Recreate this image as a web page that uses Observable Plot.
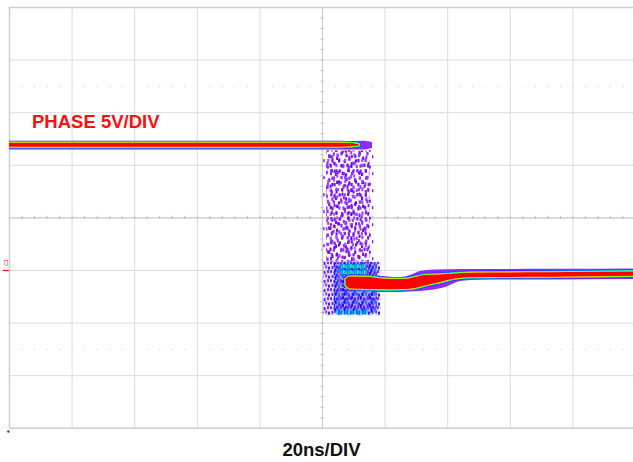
<!DOCTYPE html>
<html><head><meta charset="utf-8">
<script src="https://cdn.jsdelivr.net/npm/d3@7"></script>
<script src="https://cdn.jsdelivr.net/npm/@observablehq/plot@0.6"></script>
<style>
html,body{margin:0;padding:0;background:#fff;}
#chart{width:633px;height:462px;overflow:hidden;}
</style></head><body><div id="chart"></div>
<script>
// ---- graticule (20 ns/div, 5 V/div) ----
const timeDivs = [0, 20, 40, 60, 80, 100, 120, 140, 160, 180, 200];   // ns
const voltDivs = [-15, -10, -5, 0, 5, 10, 15, 20, 25];                // V
const minorTime = d3.range(0, 200.1, 4);
const minorVolt = d3.range(-15, 25.1, 1);
const dottedRows = [17.5, -7.5];

// ---- PHASE node, high level before the falling edge ----
const highOuterT  = [-3, 60, 108, 113, 116];
const highOuterHi = [12.25, 12.25, 12.25, 12.28, 12.15];
const highOuterLo = [11.45, 11.45, 11.45, 11.45, 11.6];
const highCoreT   = [-3, 60, 106, 110, 111.8];
const highCoreHi  = [12.1, 12.1, 12.1, 12.05, 11.95];
const highCoreLo  = [11.72, 11.72, 11.72, 11.78, 11.86];

// ---- low level after the edge ----
const lowOuterT  = [117, 124.9, 128.1, 131.3, 134.5, 139.3, 144.1, 150.5, 172.8, 203];
const lowOuterHi = [-0.52, -0.67, -0.48, -0.1, 0.02, 0.06, 0.1, 0.1, 0.12, 0.15];
const lowOuterLo = [-2.09, -2.09, -2.04, -2.0, -1.9, -1.62, -1.05, -0.93, -0.9, -0.86];
const lowCoreT   = [107.5, 109, 115, 121.7, 126.5, 129.7, 132.9, 137.7, 142.5, 147.3, 172.8, 203];
const lowCoreHi  = [-0.86, -0.62, -0.67, -0.86, -0.86, -0.67, -0.48, -0.43, -0.33, -0.26, -0.21, -0.14];
const lowCoreLo  = [-1.43, -1.76, -1.81, -1.85, -1.81, -1.71, -1.47, -1.14, -0.81, -0.68, -0.64, -0.54];

// ---- jitter / ringing zones during the transition ----
const zoneKind = ["sparse", "scatter", "scatter2", "blockPurple", "blockBlue", "blockCyan", "blockFloor"];
const zoneT1   = [99.8, 101.3, 101.3, 100.4, 103.8, 105.8, 104.5];
const zoneT2   = [116.4, 115.2, 115.2, 118.6, 117.6, 113.8, 114.5];
const zoneV1   = [0.8, 0.8, 0.8, -4.3, -4.05, -0.45, -4.22];
const zoneV2   = [11.4, 11.35, 11.35, 0.78, 0.72, 0.58, -3.85];

const labelCh = "PHASE 5V/DIV";
const labelX  = "20ns/DIV";

// tables
const band = (T, hi, lo) => T.map((t, i) => ({t, hi: hi[i], lo: lo[i]}));
const highOuter = band(highOuterT, highOuterHi, highOuterLo);
const highCore  = band(highCoreT, highCoreHi, highCoreLo);
const lowOuter  = band(lowOuterT, lowOuterHi, lowOuterLo);
const lowCore   = band(lowCoreT, lowCoreHi, lowCoreLo);
const zones = zoneKind.map((k, i) => ({k, t1: zoneT1[i], t2: zoneT2[i], v1: zoneV1[i], v2: zoneV2[i]}));
const zoneFill = {sparse: "url(#pSparse)", scatter: "url(#pScatter)", scatter2: "url(#pScatter2)",
  blockPurple: "url(#pDense)", blockBlue: "url(#pBlue)", blockCyan: "url(#pCyan)", blockFloor: "url(#pFloor)"};

const PURPLE = "#8a2cff", BLUE = "#1c1cff", CYAN = "#00e8ff", GREEN = "#22ff22", YELLOW = "#ffff00", RED = "#ff0000";
const font = "Liberation Sans, Arial, Helvetica, sans-serif";

const bandMarks = (outer, core) => [
  Plot.areaY(outer, {x: "t", y1: "lo", y2: "hi", fill: PURPLE, curve: "monotone-x", clip: true}),
  Plot.areaY(core, {x: "t", y1: "lo", y2: "hi", fill: "none", stroke: BLUE, strokeWidth: 3.8, curve: "monotone-x", clip: true}),
  Plot.areaY(core, {x: "t", y1: "lo", y2: "hi", fill: "none", stroke: CYAN, strokeWidth: 2.9, curve: "monotone-x", clip: true}),
  Plot.areaY(core, {x: "t", y1: "lo", y2: "hi", fill: "none", stroke: GREEN, strokeWidth: 2.0, curve: "monotone-x", clip: true}),
  Plot.areaY(core, {x: "t", y1: "lo", y2: "hi", fill: "none", stroke: YELLOW, strokeWidth: 1.1, curve: "monotone-x", clip: true}),
  Plot.areaY(core, {x: "t", y1: "lo", y2: "hi", fill: RED, curve: "monotone-x", clip: true})
];

const svg = Plot.plot({
  width: 633, height: 462,
  marginLeft: 9, marginRight: 0, marginTop: 7, marginBottom: 34,
  x: {domain: [0, 200], range: [9, 635], axis: null},
  y: {domain: [-15, 25], range: [427.8, 7], axis: null},
  style: {background: "#fff", fontFamily: font},
  marks: [
    Plot.ruleX(timeDivs, {stroke: "#dcdcdc", strokeWidth: 1}),
    Plot.ruleY(voltDivs, {stroke: "#dcdcdc", strokeWidth: 1}),
    Plot.dot(dottedRows.flatMap(v => minorTime.map(t => ({t, v}))), {x: "t", y: "v", r: 0.7, fill: "#d4d4d4", stroke: null}),
    Plot.ruleX([100], {stroke: "#cacaca"}),
    Plot.ruleY([5], {stroke: "#cacaca"}),
    Plot.ruleX(minorTime, {x: d => d, y1: 4.85, y2: 5.15, stroke: "#bdbdbd"}),
    Plot.ruleY(minorVolt, {y: d => d, x1: 99.5, x2: 100.5, stroke: "#bdbdbd"}),
    Plot.ruleX([0], {stroke: "#cfcfcf", strokeWidth: 1.6}),
    Plot.ruleY([25, -15], {stroke: "#cfcfcf", strokeWidth: 1.6}),
    ...Object.keys(zoneFill).map(k => Plot.rect(zones.filter(z => z.k === k),
      {x1: "t1", x2: "t2", y1: "v1", y2: "v2", fill: zoneFill[k]})),
    ...bandMarks(highOuter, highCore),
    ...bandMarks(lowOuter, lowCore),
    Plot.ruleY([0], {x1: -2, x2: 0, stroke: RED, strokeWidth: 1}),
    Plot.text(["C1"], {text: d => d, x: -1.1, y: 0.45, rotate: -90, fontSize: 5, fill: RED, textAnchor: "start"}),
    Plot.dot([0], {x: -0.35, y: -15.3, r: 1.2, fill: RED, stroke: null}),
    Plot.text([labelCh], {text: d => d, frameAnchor: "top-left", dx: 22.5, dy: 120, lineAnchor: "bottom",
      textAnchor: "start", fontSize: 18.5, fontWeight: "bold", fill: "#ff1010", fontFamily: font}),
    Plot.text([labelX], {text: d => d, frameAnchor: "bottom", dy: 27, lineAnchor: "bottom",
      fontSize: 18.5, fontWeight: "bold", fill: "#111", fontFamily: font})
  ]
});

const dash = (x, y, c, w = 1.9, h = 3.3) => `<rect x="${x}" y="${y}" width="${w}" height="${h}" rx="0.6" fill="${c}"/>`;
const scatterPts = [[0.6,1.2],[4.8,3.9],[9.1,0.4],[13.7,2.6],[18.2,0.9],[22.9,4.4],
  [2.3,7.8],[7.4,9.6],[11.8,6.9],[16.1,10.3],[20.7,8.2],[24.1,12.5],
  [0.2,14.1],[5.6,15.7],[10.3,13.2],[14.4,17.4],[19.3,14.8],[23.2,19.6],
  [3.1,20.1],[8.6,19.9],[12.2,20.3],[17.6,20.5],[21.5,1.5],[6.9,5.2]];
const scatterCols = ["#7c10ff","#9437ff","#7000f0","#9a4cff","#8020f0","#7a0aff","#8c30ff","#7614ff","#a050ff"];
const scatter2Pts = [[1.5,3.5],[7.8,1.0],[13.2,6.3],[4.2,11.7],[10.6,14.9],[15.0,12.2],[2.4,17.3],[8.3,8.6],[12.5,1.2],[6.5,16.5]];
const defsSrc = `<svg xmlns="http://www.w3.org/2000/svg"><defs>
<pattern id="pSparse" patternUnits="userSpaceOnUse" width="21" height="17">
${dash(1,1,"#8b2cff")}${dash(8,6,"#9d4dff")}${dash(15,2,"#7a1cff")}${dash(4,11,"#9440ff")}${dash(12,12.5,"#8424ff")}${dash(18,8.5,"#a35eff")}
</pattern>
<pattern id="pScatter" patternUnits="userSpaceOnUse" width="26" height="24">
${scatterPts.map(([x, y], i) => dash(x, y, scatterCols[i % scatterCols.length], 2.3, 3.6)).join("")}
</pattern>
<pattern id="pScatter2" patternUnits="userSpaceOnUse" width="17" height="21">
${scatter2Pts.map(([x, y], i) => dash(x, y, scatterCols[(i * 4) % scatterCols.length], 2.1, 3.4)).join("")}
</pattern>
<pattern id="pDense" patternUnits="userSpaceOnUse" width="10" height="9">
<rect width="10" height="9" fill="#8855ff" opacity="0.18"/>
${dash(0,0,"#7f1fff",2,3.2)}${dash(3.5,1,"#3a30ff",2,3.2)}${dash(7,0,"#8a2be2",2,3.2)}${dash(1.5,4.8,"#6a2aff",2,3.2)}${dash(5.2,4.2,"#9440ff",2,3.2)}${dash(8,5.5,"#2a2aff",2,3.2)}
</pattern>
<pattern id="pBlue" patternUnits="userSpaceOnUse" width="9" height="8">
<rect width="9" height="8" fill="#3a3aff" opacity="0.35"/>
${dash(0,0,"#1414ff",2,3.2)}${dash(3,1.5,"#2d2dff",2,3.2)}${dash(6.5,0.3,"#7a1fff",2,3.2)}${dash(1.5,4.5,"#0a0aff",2,3.2)}${dash(5,4.3,"#1e7bff",2,3.2)}
</pattern>
<pattern id="pCyan" patternUnits="userSpaceOnUse" width="7" height="6">
<rect width="7" height="6" fill="#1a6cff"/>
${dash(0,0,"#00ffee",1.6,4)}${dash(2.4,1,"#33ff33",1.4,4)}${dash(4.8,0.5,"#00c8ff",1.6,4)}${dash(1.2,4,"#1010ff",1.6,2)}
</pattern>
<pattern id="pFloor" patternUnits="userSpaceOnUse" width="6" height="5">
<rect width="6" height="5" fill="#2050ff"/>
${dash(0,0,"#00e5ff",2,5)}${dash(3.5,0,"#00a0ff",1.5,5)}
</pattern>
</defs></svg>`;
const defs = new DOMParser().parseFromString(defsSrc, "image/svg+xml").querySelector("defs");
svg.insertBefore(document.importNode(defs, true), svg.firstChild);
document.getElementById("chart").appendChild(svg);
</script>
</body></html>
